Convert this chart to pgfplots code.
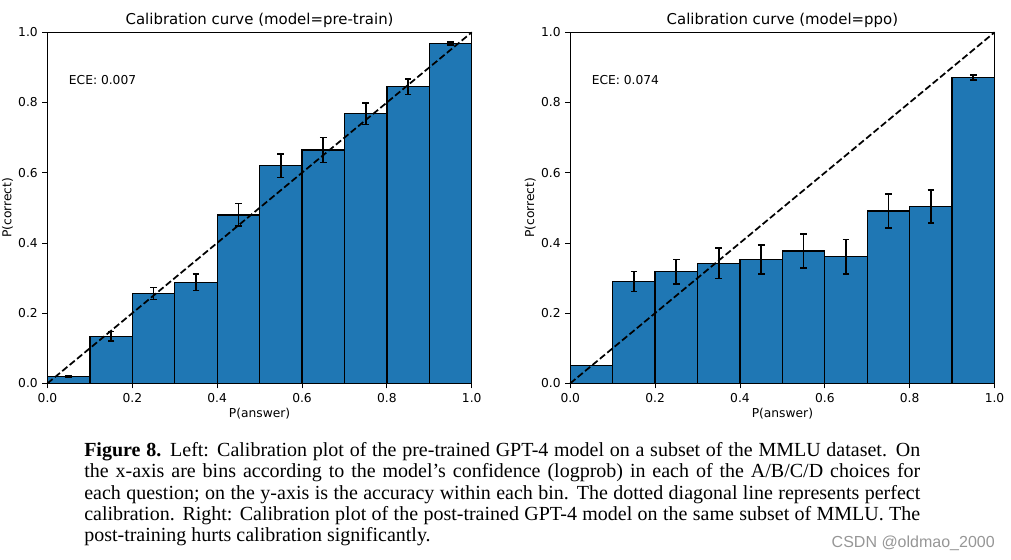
\documentclass[border=0pt]{standalone}
\usepackage{pgfplots}
\pgfplotsset{compat=1.18}
\usepackage{fontspec}
\setmainfont{DejaVu Sans}
\newfontfamily\capfont{Liberation Serif}
\newfontfamily\wmfont{Liberation Sans}
\definecolor{mplblue}{HTML}{1F77B4}
\definecolor{wmgray}{RGB}{150,150,150}

\newcommand\capline[1]{\sbox0{#1}\ifdim\wd0>627pt \resizebox{627pt}{\height}{#1}\else\makebox[627pt][s]{#1}\fi}

\pgfplotsset{calib/.style={
  scale only axis, width=318.2pt, height=263.25pt, anchor=south west,
  xmin=0, xmax=1, ymin=0, ymax=1, enlargelimits=false, clip=false, axis on top,
  xtick={0,0.2,0.4,0.6,0.8,1}, ytick={0,0.2,0.4,0.6,0.8,1},
  tick pos=left, tick align=outside, major tick length=3.75pt,
  every tick/.style={black, line width=0.6pt},
  axis line style={line width=0.6pt, black},
  /pgf/number format/fixed, /pgf/number format/fixed zerofill,
  /pgf/number format/precision=1, /pgf/number format/assume math mode=true,
  ticklabel style={font=\fontsize{9.2}{11}\selectfont},
  label style={font=\fontsize{9.2}{11}\selectfont},
  title style={font=\fontsize{11.2}{13}\selectfont, at={(axis description cs:0.5,1.021)}, anchor=base, yshift=-6pt},
  xlabel style={at={(axis description cs:0.5,-0.085)}, anchor=center},
  ylabel style={at={(axis description cs:-0.094,0.5)}, anchor=center},
  xlabel={P(answer)}, ylabel={P(correct)},
  errs/.style={draw=none, mark=none, error bars/.cd, y dir=both, y explicit,
    error bar style={draw=black, line width=1.3pt, solid},
    error mark=|,
    error mark options={draw=black, line width=1.1pt, mark size=2.5pt}},
}}

\begin{document}
\begin{tikzpicture}
\useasboundingbox (0,0) rectangle (758.25pt,420pt);

\begin{axis}[calib, at={(35.6pt,132.5pt)}, title={Calibration curve (model=pre-train)}]
\addplot[ybar interval, fill=mplblue, draw=black, line width=1pt] coordinates {
(0.0,0.020) (0.1,0.134) (0.2,0.256) (0.3,0.288) (0.4,0.480) (0.5,0.620)
(0.6,0.665) (0.7,0.768) (0.8,0.845) (0.9,0.968) (1.0,0.968)};
\addplot[black, line width=1.3pt, dash pattern=on 5pt off 2.2pt] coordinates {(0,0) (1,1)};
\addplot[errs] coordinates {
(0.05,0.020) +- (0,0.002) (0.15,0.134) +- (0,0.014) (0.25,0.256) +- (0,0.017)
(0.35,0.288) +- (0,0.023) (0.45,0.480) +- (0,0.032) (0.55,0.620) +- (0,0.034)
(0.65,0.665) +- (0,0.036) (0.75,0.768) +- (0,0.030) (0.85,0.845) +- (0,0.022)
(0.95,0.968) +- (0,0.004)};
\node[anchor=base west, inner sep=0, font=\fontsize{9.2}{11}\selectfont] at (axis cs:0.05,0.85) {ECE: 0.007};
\end{axis}

\begin{axis}[calib, at={(427.7pt,132.5pt)}, title={Calibration curve (model=ppo)}]
\addplot[ybar interval, fill=mplblue, draw=black, line width=1pt] coordinates {
(0.0,0.050) (0.1,0.290) (0.2,0.318) (0.3,0.342) (0.4,0.353) (0.5,0.377)
(0.6,0.361) (0.7,0.491) (0.8,0.504) (0.9,0.871) (1.0,0.871)};
\addplot[black, line width=1.3pt, dash pattern=on 5pt off 2.2pt] coordinates {(0,0) (1,1)};
\addplot[errs] coordinates {
(0.15,0.290) +- (0,0.029) (0.25,0.318) +- (0,0.035)
(0.35,0.342) +- (0,0.043) (0.45,0.353) +- (0,0.041) (0.55,0.377) +- (0,0.048)
(0.65,0.361) +- (0,0.049) (0.75,0.491) +- (0,0.048) (0.85,0.504) +- (0,0.047)
(0.95,0.871) +- (0,0.007)};
\node[anchor=base west, inner sep=0, font=\fontsize{9.2}{11}\selectfont] at (axis cs:0.05,0.85) {ECE: 0.074};
\end{axis}

\begin{scope}[every node/.style={anchor=base west, inner sep=0, font=\capfont\fontsize{15}{17}\selectfont}]
\node at (63pt,77.5pt) {\capline{\textbf{Figure 8.} Left: Calibration plot of the pre-trained GPT-4 model on a subset of the MMLU dataset. On}};
\node at (63pt,61.56pt) {\capline{the x-axis are bins according to the model’s confidence (logprob) in each of the A/B/C/D choices for}};
\node at (63pt,45.62pt) {\capline{each question; on the y-axis is the accuracy within each bin. The dotted diagonal line represents perfect}};
\node at (63pt,29.69pt) {\capline{calibration. Right: Calibration plot of the post-trained GPT-4 model on the same subset of MMLU. The}};
\node at (63pt,13.75pt) {post-training hurts calibration significantly.};
\end{scope}
\node[anchor=base east, inner sep=0, text=wmgray, font=\wmfont\fontsize{12}{14}\selectfont] at (746.25pt,9pt) {CSDN @oldmao\_2000};
\end{tikzpicture}
\end{document}
